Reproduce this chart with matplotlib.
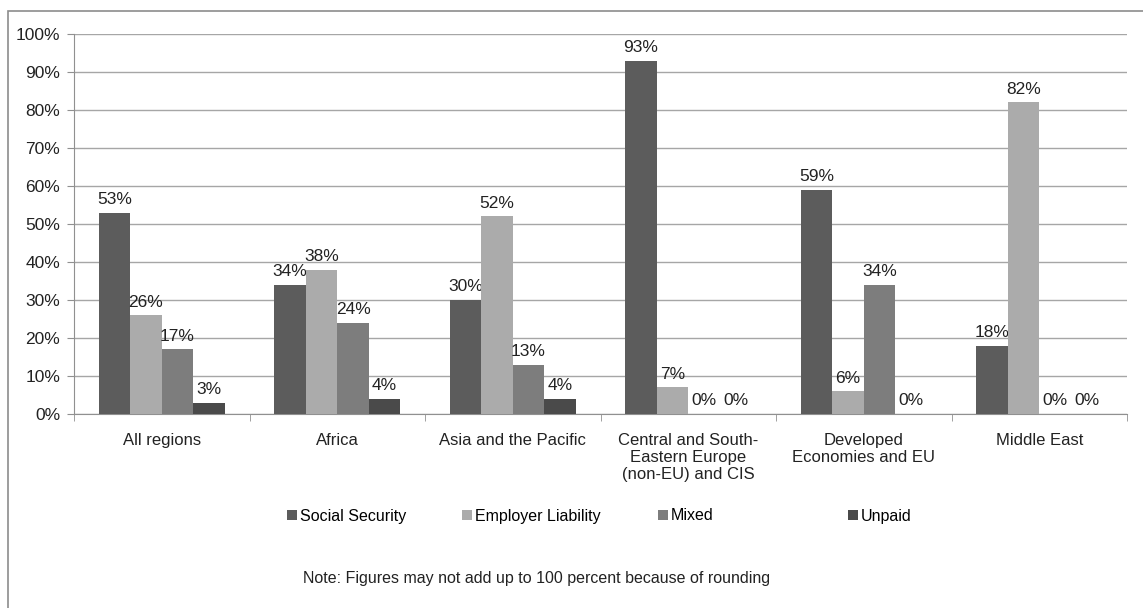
import numpy as np
import matplotlib.pyplot as plt
from matplotlib.patches import Rectangle

plt.rcParams['font.family'] = ['Liberation Sans', 'DejaVu Sans']

regions = ['All regions', 'Africa', 'Asia and the Pacific',
           'Central and South-\nEastern Europe\n(non-EU) and CIS',
           'Developed\nEconomies and EU', 'Middle East']
series = ['Social Security', 'Employer Liability', 'Mixed', 'Unpaid']
social_security = [53, 34, 30, 93, 59, 18]
employer_liability = [26, 38, 52, 7, 6, 82]
mixed = [17, 24, 13, 0, 34, 0]
unpaid = [3, 4, 4, 0, 0, 0]
colors = ['#5c5c5c', '#ababab', '#7d7d7d', '#4a4a4a']

fig = plt.figure(figsize=(11.43, 6.08), dpi=100)
ax = fig.add_axes([74/1143, 1 - 414/608, (1127 - 74)/1143, 380/608])

x = np.arange(len(regions))
w = 0.18
all_vals = [social_security, employer_liability, mixed, unpaid]
handles = []
for i, (vals, name) in enumerate(zip(all_vals, series)):
    pos = x + (i - 1.5) * w
    bars = ax.bar(pos, vals, w, color=colors[i], label=name, zorder=3)
    handles.append(bars)
    for p, v in zip(pos, vals):
        ax.annotate(f'{v}%', (p, v), xytext=(0, 4), textcoords='offset points',
                    ha='center', va='bottom', fontsize=12.5, color='#222222')

ax.set_xlim(-0.5, len(regions) - 0.5)
ax.set_ylim(0, 100)
ax.set_yticks(range(0, 101, 10))
ax.set_yticklabels([f'{t}%' for t in range(0, 101, 10)], fontsize=12.5,
                   color='#222222')
ax.yaxis.grid(True, color='#a6a6a6', linewidth=1)
ax.set_axisbelow(True)

ax.set_xticks(x)
ax.set_xticklabels(regions, fontsize=12, linespacing=1.15, color='#222222')
ax.tick_params(axis='x', length=0, pad=14)
ax.set_xticks(np.arange(-0.5, len(regions)), minor=True)
ax.tick_params(axis='x', which='minor', length=5, color='#909090')
ax.tick_params(axis='y', length=5, color='#909090', pad=5)

for s in ['top', 'right']:
    ax.spines[s].set_visible(False)
for s in ['left', 'bottom']:
    ax.spines[s].set_color('#909090')

# one legend per entry so the columns sit where the original puts them
legend_x = [287, 462, 658, 848]
for h, name, lx in zip(handles, series, legend_x):
    leg = fig.legend([h], [name], loc='center left',
                     bbox_to_anchor=(lx/1143, 1 - 516/608),
                     frameon=False, fontsize=11.5, handlelength=0.6,
                     handleheight=0.6, handletextpad=0.2, borderpad=0,
                     borderaxespad=0)

fig.text(537/1143, 1 - 578/608,
         'Note: Figures may not add up to 100 percent because of rounding',
         ha='center', va='center', fontsize=11.5, color='#222222')

fig.patches.append(Rectangle((8/1143, -0.05), 1.1, 1 - 11/608 + 0.05,
                             transform=fig.transFigure, fill=False,
                             edgecolor='#8c8c8c', linewidth=1.2))

fig.savefig('out.png', dpi=100)
